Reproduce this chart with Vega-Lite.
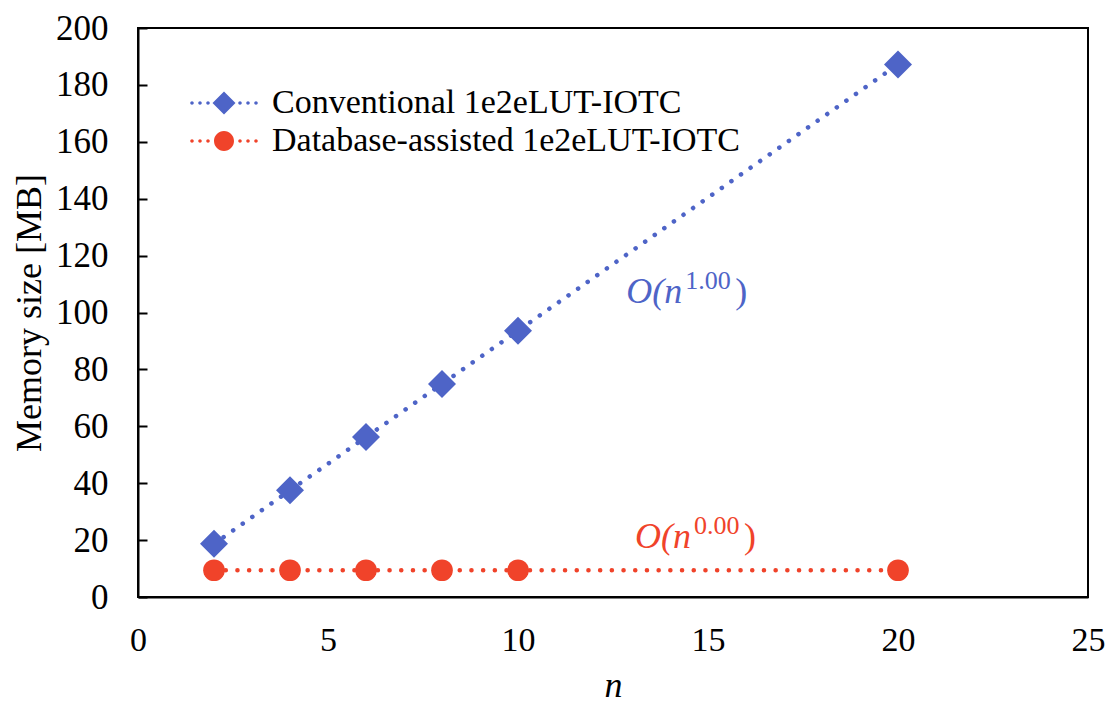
{
  "$schema": "https://vega.github.io/schema/vega-lite/v6.json",
  "width": 950,
  "height": 569,
  "autosize": "none",
  "padding": {"left": 138, "top": 28, "right": 22, "bottom": 108},
  "background": "white",
  "config": {
    "view": {"stroke": "black", "strokeWidth": 2},
    "font": "Liberation Serif"
  },
  "datasets": {
    "series": [
      {"n": 2, "mem": 18.7, "series": "Conventional 1e2eLUT-IOTC"},
      {"n": 4, "mem": 37.5, "series": "Conventional 1e2eLUT-IOTC"},
      {"n": 6, "mem": 56.2, "series": "Conventional 1e2eLUT-IOTC"},
      {"n": 8, "mem": 74.9, "series": "Conventional 1e2eLUT-IOTC"},
      {"n": 10, "mem": 93.6, "series": "Conventional 1e2eLUT-IOTC"},
      {"n": 20, "mem": 187.2, "series": "Conventional 1e2eLUT-IOTC"},
      {"n": 2, "mem": 9.4, "series": "Database-assisted 1e2eLUT-IOTC"},
      {"n": 4, "mem": 9.4, "series": "Database-assisted 1e2eLUT-IOTC"},
      {"n": 6, "mem": 9.4, "series": "Database-assisted 1e2eLUT-IOTC"},
      {"n": 8, "mem": 9.4, "series": "Database-assisted 1e2eLUT-IOTC"},
      {"n": 10, "mem": 9.4, "series": "Database-assisted 1e2eLUT-IOTC"},
      {"n": 20, "mem": 9.4, "series": "Database-assisted 1e2eLUT-IOTC"}
    ],
    "notes": [
      {"n": 12.85, "mem": 103.3, "base": "O(n", "sup": "1.00", "series": "Conventional 1e2eLUT-IOTC"},
      {"n": 13.08, "mem": 17.2, "base": "O(n", "sup": "0.00", "series": "Database-assisted 1e2eLUT-IOTC"}
    ]
  },
  "layer": [
    {
      "data": {"name": "series"},
      "mark": {"type": "line", "strokeDash": [0.1, 11.6], "strokeCap": "round", "strokeWidth": 4.5},
      "encoding": {
        "x": {
          "field": "n", "type": "quantitative",
          "scale": {"domain": [0, 25], "nice": false},
          "axis": {
            "values": [0, 5, 10, 15, 20, 25],
            "ticks": false, "grid": false,
            "domainColor": "black", "domainWidth": 2,
            "labelFont": "Liberation Serif", "labelFontSize": 34, "labelColor": "black",
            "labelPadding": 26, "labelFlush": false,
            "title": "n", "titleFont": "Liberation Serif", "titleFontSize": 36,
            "titleFontStyle": "italic", "titleFontWeight": "normal", "titleColor": "black",
            "titlePadding": 11
          }
        },
        "y": {
          "field": "mem", "type": "quantitative",
          "scale": {"domain": [0, 200], "nice": false},
          "axis": {
            "values": [0, 20, 40, 60, 80, 100, 120, 140, 160, 180, 200],
            "tickSize": -9, "tickWidth": 2, "tickColor": "black", "grid": false,
            "domainColor": "black", "domainWidth": 2,
            "labelFont": "Liberation Serif", "labelFontSize": 35, "labelColor": "black",
            "labelPadding": 39, "labelFlush": false,
            "title": "Memory size [MB]", "titleFont": "Liberation Serif", "titleFontSize": 36,
            "titleFontWeight": "normal", "titleColor": "black",
            "titlePadding": 7
          }
        },
        "color": {
          "field": "series", "type": "nominal",
          "scale": {
            "domain": ["Conventional 1e2eLUT-IOTC", "Database-assisted 1e2eLUT-IOTC"],
            "range": ["#4e64c7", "#f0432a"]
          },
          "legend": {
            "orient": "none", "legendX": 69, "legendY": 58,
            "title": null, "padding": 0,
            "labelFont": "Liberation Serif", "labelFontSize": 34, "labelColor": "black",
            "labelOffset": 31, "labelLimit": 0, "rowPadding": 4,
            "symbolSize": 625, "symbolStrokeWidth": 0,
            "encode": {
              "symbols": {
                "update": {
                  "shape": {"signal": "(datum.value === 'Conventional 1e2eLUT-IOTC' ? 'M-0.92,0L0,-0.92L0.92,0L0,0.92Z' : 'M-0.8,0A0.8,0.8 0 1,0 0.8,0A0.8,0.8 0 1,0 -0.8,0Z') + 'M-2.7,0A0.14,0.14 0 1,0 -2.42,0A0.14,0.14 0 1,0 -2.7,0ZM-2.06,0A0.14,0.14 0 1,0 -1.78,0A0.14,0.14 0 1,0 -2.06,0ZM-1.42,0A0.14,0.14 0 1,0 -1.14,0A0.14,0.14 0 1,0 -1.42,0ZM1.14,0A0.14,0.14 0 1,0 1.42,0A0.14,0.14 0 1,0 1.14,0ZM1.78,0A0.14,0.14 0 1,0 2.06,0A0.14,0.14 0 1,0 1.78,0ZM2.42,0A0.14,0.14 0 1,0 2.7,0A0.14,0.14 0 1,0 2.42,0Z'"},
                  "fill": {"scale": "color", "field": "value"},
                  "stroke": {"value": "transparent"},
                  "strokeWidth": {"value": 0},
                  "opacity": {"value": 1},
                  "fillOpacity": {"value": 1}
                }
              }
            }
          }
        }
      }
    },
    {
      "data": {"name": "series"},
      "transform": [{"filter": "datum.series === 'Conventional 1e2eLUT-IOTC'"}],
      "mark": {"type": "point", "filled": true, "opacity": 1, "shape": "diamond", "size": 784},
      "encoding": {
        "x": {"field": "n", "type": "quantitative"},
        "y": {"field": "mem", "type": "quantitative"},
        "color": {"field": "series", "type": "nominal"}
      }
    },
    {
      "data": {"name": "series"},
      "transform": [{"filter": "datum.series === 'Database-assisted 1e2eLUT-IOTC'"}],
      "mark": {"type": "point", "filled": true, "opacity": 1, "shape": "circle", "size": 470},
      "encoding": {
        "x": {"field": "n", "type": "quantitative"},
        "y": {"field": "mem", "type": "quantitative"},
        "color": {"field": "series", "type": "nominal"}
      }
    },
    {
      "data": {"name": "notes"},
      "mark": {"type": "text", "align": "left", "baseline": "alphabetic", "font": "Liberation Serif", "fontSize": 36, "fontStyle": "italic"},
      "encoding": {
        "x": {"field": "n", "type": "quantitative"},
        "y": {"field": "mem", "type": "quantitative"},
        "text": {"field": "base"},
        "color": {"field": "series", "type": "nominal"}
      }
    },
    {
      "data": {"name": "notes"},
      "mark": {"type": "text", "align": "left", "baseline": "alphabetic", "font": "Liberation Serif", "fontSize": 26, "dx": 59, "dy": -14},
      "encoding": {
        "x": {"field": "n", "type": "quantitative"},
        "y": {"field": "mem", "type": "quantitative"},
        "text": {"field": "sup"},
        "color": {"field": "series", "type": "nominal"}
      }
    },
    {
      "data": {"name": "notes"},
      "mark": {"type": "text", "align": "left", "baseline": "alphabetic", "font": "Liberation Serif", "fontSize": 36, "dx": 109},
      "encoding": {
        "x": {"field": "n", "type": "quantitative"},
        "y": {"field": "mem", "type": "quantitative"},
        "text": {"value": ")"},
        "color": {"field": "series", "type": "nominal"}
      }
    }
  ]
}
